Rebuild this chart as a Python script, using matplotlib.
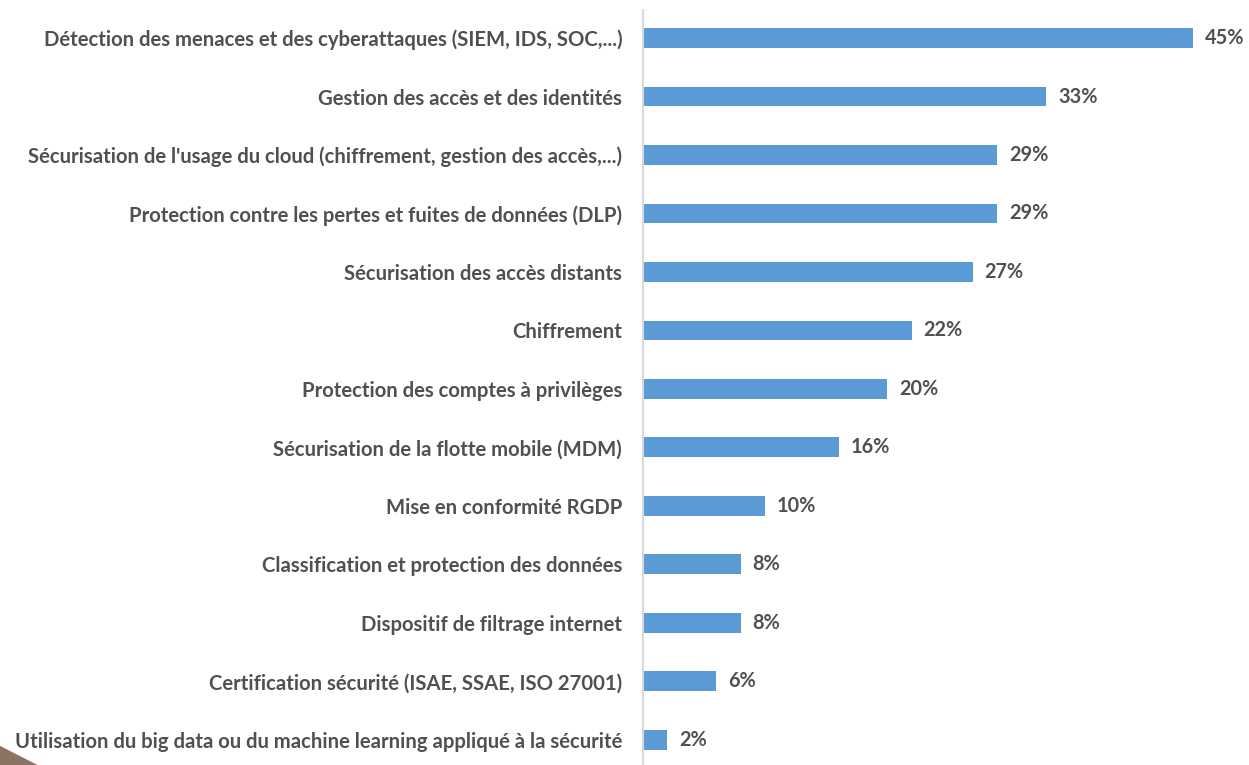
import matplotlib.pyplot as plt
from matplotlib.patches import Polygon

categories = [
    "Détection des menaces et des cyberattaques (SIEM, IDS, SOC,...)",
    "Gestion des accès et des identités",
    "Sécurisation de l'usage du cloud (chiffrement, gestion des accès,...)",
    "Protection contre les pertes et fuites de données (DLP)",
    "Sécurisation des accès distants",
    "Chiffrement",
    "Protection des comptes à privilèges",
    "Sécurisation de la flotte mobile (MDM)",
    "Mise en conformité RGDP",
    "Classification et protection des données",
    "Dispositif de filtrage internet",
    "Certification sécurité (ISAE, SSAE, ISO 27001)",
    "Utilisation du big data ou du machine learning appliqué à la sécurité",
]
values = [45, 33, 29, 29, 27, 22, 20, 16, 10, 8, 8, 6, 2]
value_labels = [f"{v}%" for v in values]

bar_color = "#5B9BD5"
text_color = "#505050"
font = "Lato"

fig = plt.figure(figsize=(12.49, 7.65), dpi=100)
ax = fig.add_axes([0.5148, 0.0, 0.4404, 0.987])

pos = list(range(len(categories)))
ax.barh(pos, values, height=0.34, color=bar_color)
ax.set_xlim(0, 45)
ax.set_ylim(12.43, -0.48)

ax.set_yticks(pos)
ax.set_yticklabels(categories, fontsize=14.6, fontweight="bold",
                   color=text_color, family=font)
ax.tick_params(axis="y", length=0, pad=15)
ax.set_xticks([])

for p, v, lab in zip(pos, values, value_labels):
    ax.text(v + 0.95, p, lab, va="center", ha="left", fontsize=14.3,
            fontweight="bold", color=text_color, family=font, clip_on=False)

for s in ["top", "right", "bottom"]:
    ax.spines[s].set_visible(False)
ax.spines["left"].set_color("#D9D9D9")
ax.spines["left"].set_linewidth(1.5)

# small brown corner decoration
fig.patches.append(Polygon([[0, 0], [0, 0.025], [0.03, 0.0]], closed=True,
                           transform=fig.transFigure, facecolor="#8C7363",
                           edgecolor="none"))

fig.savefig("out.png", dpi=100)
